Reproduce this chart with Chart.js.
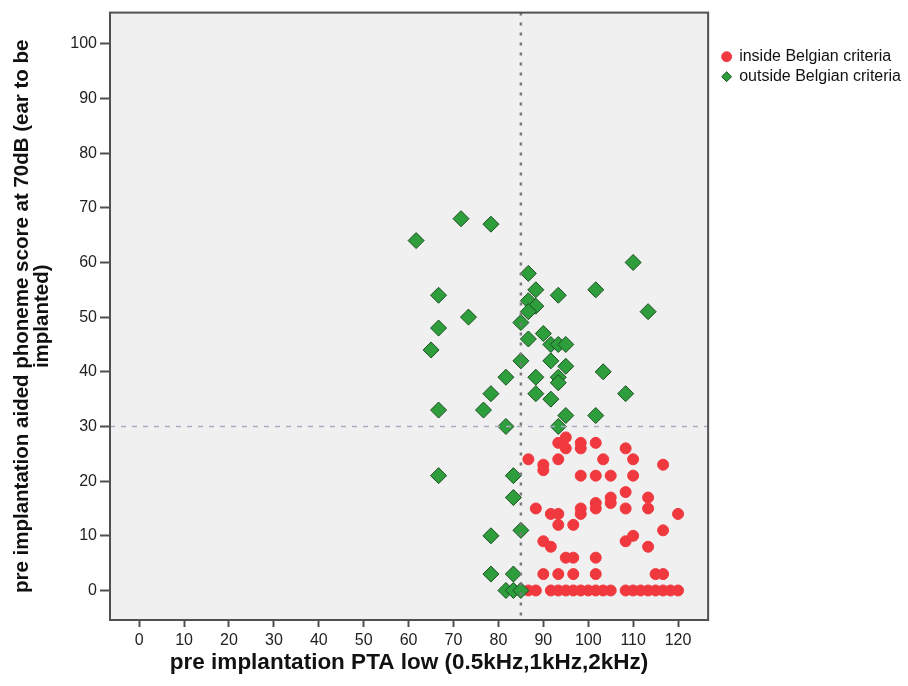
<!DOCTYPE html>
<html>
<head>
<meta charset="utf-8">
<script src="https://cdn.jsdelivr.net/npm/chart.js@4/dist/chart.umd.min.js"></script>
<style>
  html, body { margin: 0; padding: 0; background: #fff; }
  #wrap { width: 908px; height: 686px; }
</style>
</head>
<body>
<div id="wrap"><canvas id="scatter"></canvas></div>
<script>
// PTA low (dB) and aided phoneme score (%) per ear
const insideX = [95, 93.33, 95, 98.33, 98.33, 101.67, 108.33, 86.67, 93.33, 103.33, 110, 90, 90, 116.67,
  98.33, 101.67, 105, 110, 108.33, 105, 105, 101.67, 101.67, 113.33, 88.33, 98.33, 98.33, 91.67, 93.33,
  108.33, 113.33, 120, 93.33, 96.67, 116.67, 110, 108.33, 90, 91.67, 113.33, 95, 96.67, 101.67,
  90, 93.33, 96.67, 101.67, 115, 116.67,
  86.67, 88.33, 91.67, 93.33, 95, 96.67, 98.33, 100, 101.67, 103.33, 105, 108.33, 110, 111.67, 113.33,
  115, 116.67, 118.33, 120];
const insideY = [28, 27, 26, 27, 26, 27, 26, 24, 24, 24, 24, 23, 22, 23,
  21, 21, 21, 21, 18, 17, 16, 16, 15, 17, 15, 15, 14, 14, 14,
  15, 15, 14, 12, 12, 11, 10, 9, 9, 8, 8, 6, 6, 6,
  3, 3, 3, 3, 3, 3,
  0, 0, 0, 0, 0, 0, 0, 0, 0, 0, 0, 0, 0, 0, 0,
  0, 0, 0, 0];

const outsideX = [71.67, 78.33, 61.67, 110, 86.67, 88.33, 93.33, 101.67, 66.67, 86.67, 88.33, 86.67, 113.33,
  73.33, 85, 66.67, 90, 86.67, 91.67, 93.33, 95, 65, 85, 91.67, 95, 103.33, 81.67, 88.33, 93.33, 93.33,
  78.33, 88.33, 108.33, 91.67, 66.67, 76.67, 95, 101.67, 81.67, 93.33,
  66.67, 83.33, 83.33, 85, 78.33, 78.33, 83.33, 81.67, 83.33, 85];
const outsideY = [68, 67, 64, 60, 58, 55, 54, 55, 54, 53, 52, 51, 51,
  50, 49, 48, 47, 46, 45, 45, 45, 44, 42, 42, 41, 40, 39, 39, 39, 38,
  36, 36, 36, 35, 33, 33, 32, 32, 30, 30,
  21, 21, 17, 11, 10, 3, 3, 0, 0, 0];

const seriesNames = ['inside Belgian criteria', 'outside Belgian criteria'];
const xTitle = 'pre implantation PTA low (0.5kHz,1kHz,2kHz)';
const yTitle = ['pre implantation aided phoneme score at 70dB (ear to be', 'implanted)'];
const cutX = 85;
const cutY = 30;

const toPoints = (xs, ys) => xs.map((x, i) => ({ x, y: ys[i] }));

// plot background, frame and the two cut-off lines
const plotDecor = {
  id: 'plotDecor',
  beforeDraw(chart) {
    const { ctx, chartArea: a } = chart;
    ctx.save();
    ctx.fillStyle = '#F0F0F0';
    ctx.fillRect(a.left, a.top, a.width, a.height);
    ctx.restore();
  },
  afterDatasetsDraw(chart) {
    const { ctx, chartArea: a, scales: { x, y } } = chart;
    const px = x.getPixelForValue(cutX);
    const py = y.getPixelForValue(cutY);
    ctx.save();
    ctx.strokeStyle = '#A9A9C4';
    ctx.lineWidth = 1.5;
    ctx.setLineDash([5, 6]);
    ctx.beginPath();
    ctx.moveTo(a.left, py);
    ctx.lineTo(a.right, py);
    ctx.stroke();
    ctx.strokeStyle = '#7A7A7A';
    ctx.lineWidth = 2.5;
    ctx.setLineDash([3, 7]);
    ctx.beginPath();
    ctx.moveTo(px, a.top);
    ctx.lineTo(px, a.bottom);
    ctx.stroke();
    ctx.setLineDash([]);
    ctx.strokeStyle = '#505050';
    ctx.lineWidth = 2;
    ctx.strokeRect(a.left, a.top, a.width, a.height);
    ctx.restore();
  }
};

const sans = 'Liberation Sans, Arial, sans-serif';
const tickFont = { family: sans, size: 16 };

new Chart(document.getElementById('scatter'), {
  type: 'scatter',
  data: {
    datasets: [{
      label: seriesNames[0],
      data: toPoints(insideX, insideY),
      pointStyle: 'circle',
      pointRadius: 5.5,
      pointHoverRadius: 5.5,
      backgroundColor: '#F0393F',
      borderColor: '#F0393F',
      borderWidth: 1,
      order: 2
    }, {
      label: seriesNames[1],
      data: toPoints(outsideX, outsideY),
      pointStyle: 'rectRot',
      pointRadius: 8,
      pointHoverRadius: 8,
      backgroundColor: '#2E9E3D',
      borderColor: '#1C4F22',
      borderWidth: 1,
      order: 1
    }]
  },
  options: {
    responsive: true,
    maintainAspectRatio: false,
    animation: false,
    layout: { padding: { top: 10, left: 0, right: -3, bottom: 0 } },
    plugins: {
      tooltip: { enabled: false },
      legend: {
        position: 'right',
        align: 'start',
        title: { display: true, text: '', font: { size: 10, lineHeight: 1 }, padding: { top: 24.7, bottom: 0 } },
        labels: {
          usePointStyle: true,
          boxWidth: 9,
          boxHeight: 7,
          padding: 4,
          color: '#111',
          font: { family: sans, size: 16 },
          sort: (a, b) => a.datasetIndex - b.datasetIndex
        }
      }
    },
    scales: {
      x: {
        type: 'linear',
        min: -6.5,
        max: 126.7,
        grid: { drawOnChartArea: false, tickLength: 7, tickWidth: 2, tickColor: '#505050' },
        border: { display: false },
        ticks: { stepSize: 10, includeBounds: false, padding: 4, color: '#222', font: tickFont },
        title: { display: true, text: xTitle, color: '#111', font: { family: sans, size: 22.5, weight: 'bold' }, padding: { top: 0, bottom: 9.5 } },
        afterFit(s) { s.height = 66; }
      },
      y: {
        type: 'linear',
        min: -5.4,
        max: 105.7,
        grid: { drawOnChartArea: false, tickLength: 10, tickWidth: 2, tickColor: '#505050' },
        border: { display: false },
        ticks: { stepSize: 10, includeBounds: false, padding: 3, color: '#222', font: tickFont },
        title: { display: true, text: yTitle, color: '#111', font: { family: sans, size: 20.5, weight: 'bold', lineHeight: 1 }, padding: { top: 12, bottom: 0 } },
        afterFit(s) { s.width = 110; }
      },
      gap: {
        type: 'linear',
        axis: 'y',
        position: 'right',
        display: false,
        afterFit(s) { s.width = 10; }
      }
    }
  },
  plugins: [plotDecor]
});
</script>
</body>
</html>
